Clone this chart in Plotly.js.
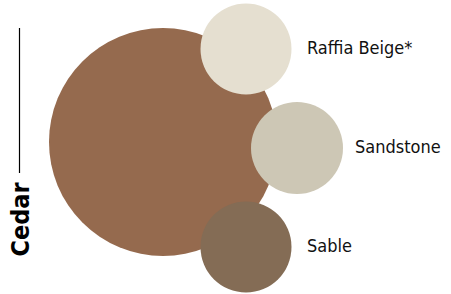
<!DOCTYPE html>
<html><head><meta charset="utf-8">
<script src="https://cdn.plot.ly/plotly-3.0.1.min.js"></script>
<style>html,body{margin:0;padding:0;background:#fff}#c{width:451px;height:294px}</style>
</head><body><div id="c"></div>
<script>
const names = ["Cedar", "Raffia Beige*", "Sandstone", "Sable"];
const sizes = [228, 91, 92, 91];
const xs = [163, 246, 297, 246];
const ys = [142, 49, 148, 247];
const colors = ["#956a4e", "#e5dfd0", "#cdc7b5", "#846c55"];
const labelX = [307, 355, 307];

const bubbles = {
  type: "scatter", mode: "markers", x: xs, y: ys,
  marker: {size: sizes, color: colors, line: {width: 0}, opacity: 1},
  hoverinfo: "skip", showlegend: false, cliponaxis: false
};
const labels = {
  type: "scatter", mode: "text",
  x: labelX,
  y: ys.slice(1),
  text: names.slice(1),
  textposition: "middle right",
  textfont: {family: "DejaVu Sans Condensed, Roboto, sans-serif", size: 18, color: "#111"},
  hoverinfo: "skip", showlegend: false, cliponaxis: false
};
Plotly.newPlot("c", [bubbles, labels], {
  width: 451, height: 294, margin: {l: 0, r: 0, t: 0, b: 0},
  paper_bgcolor: "#fff", plot_bgcolor: "#fff",
  xaxis: {range: [0, 451], visible: false, fixedrange: true},
  yaxis: {range: [294, 0], visible: false, fixedrange: true},
  annotations: [{
    text: "<b>" + names[0] + "</b>", x: 19.5, y: 219, xref: "x", yref: "y",
    textangle: -90, showarrow: false,
    font: {family: "DejaVu Sans Condensed, Roboto, sans-serif", size: 25, color: "#000"}
  }],
  shapes: [{type: "line", xref: "x", yref: "y", x0: 19.5, x1: 19.5, y0: 28, y1: 173,
    line: {color: "#000", width: 1.2}}]
}, {staticPlot: true, displayModeBar: false});
</script></body></html>
